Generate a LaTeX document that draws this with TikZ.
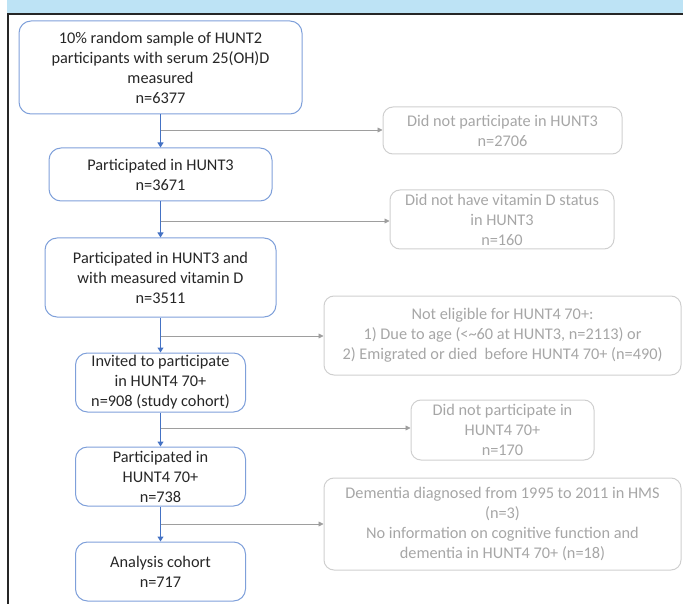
\documentclass[tikz,border=0pt]{standalone}
\usepackage{fontspec}
\setmainfont{Carlito}
\usetikzlibrary{arrows.meta}
\definecolor{mainblue}{HTML}{4472C4}
\definecolor{boxblue}{HTML}{7FA0DA}
\definecolor{gbord}{HTML}{CFCFCF}
\definecolor{gtext}{HTML}{A6A6A6}
\definecolor{garrow}{HTML}{9E9E9E}
\definecolor{band}{HTML}{BDE3F5}
\definecolor{maintext}{HTML}{262626}
\begin{document}
\begin{tikzpicture}[x=1pt,y=-1pt,
  mainbox/.style={draw=boxblue, line width=1pt, rounded corners=12pt, align=center,
    font=\fontsize{16.3}{20}\selectfont, text=maintext, inner sep=0pt},
  greybox/.style={draw=gbord, line width=1pt, rounded corners=10pt, align=center,
    font=\fontsize{16.3}{20}\selectfont, text=gtext, inner sep=0pt},
  mainarrow/.style={draw=mainblue, line width=1pt, -{Triangle[length=5pt,width=6pt]}},
  sidearrow/.style={draw=garrow, line width=0.8pt, -{Triangle[length=5pt,width=5pt]}}]
\useasboundingbox (0,0) rectangle (683,604);
\fill[band] (7,0) rectangle (683,13);
\draw[line width=1.6pt, black!85] (8,604) -- (8,14) -- (683,14);

\node[mainbox, minimum width=283pt, minimum height=93pt] (b1) at (160.5,67.5)
  {10\% random sample of HUNT2\\participants with serum 25(OH)D\\measured\\n=6377};
\node[mainbox, minimum width=223pt, minimum height=53pt] (b2) at (160.5,174.5)
  {Participated in HUNT3\\n=3671};
\node[mainbox, minimum width=231pt, minimum height=79pt] (b3) at (160.5,277.5)
  {Participated in HUNT3 and\\with measured vitamin D\\n=3511};
\node[mainbox, minimum width=170pt, minimum height=59pt] (b4) at (160.5,382.5)
  {Invited to participate\\in HUNT4 70+\\n=908 (study cohort)};
\node[mainbox, minimum width=170pt, minimum height=59pt] (b5) at (160.5,476.5)
  {Participated in\\HUNT4 70+\\n=738};
\node[mainbox, minimum width=170pt, minimum height=59pt] (b6) at (160.5,571.5)
  {Analysis cohort\\n=717};

\node[greybox, minimum width=239pt, minimum height=47pt] (gA) at (502.5,130.5)
  {Did not participate in HUNT3\\n=2706};
\node[greybox, minimum width=224pt, minimum height=59pt] (gB) at (502,219.5)
  {Did not have vitamin D status\\in HUNT3\\n=160};
\node[greybox, minimum width=357pt, minimum height=79pt] (gC) at (502.5,335.5)
  {Not eligible for HUNT4 70+:\\1) Due to age (<\textasciitilde60 at HUNT3, n=2113) or\\2) Emigrated or died\ \ before HUNT4 70+ (n=490)};
\node[greybox, minimum width=183pt, minimum height=60pt] (gD) at (502.5,430)
  {Did not participate in\\HUNT4 70+\\n=170};
\node[greybox, minimum width=357pt, minimum height=92pt] (gE) at (502.5,524)
  {Dementia diagnosed from 1995 to 2011 in HMS\\(n=3)\\No information on cognitive function and\\dementia in HUNT4 70+ (n=18)};

\path[mainarrow] (b1.south) -- (b2.north);
\path[mainarrow] (b2.south) -- (b3.north);
\path[mainarrow] (b3.south) -- (b4.north);
\path[mainarrow] (b4.south) -- (b5.north);
\path[mainarrow] (b5.south) -- (b6.north);

\coordinate (j1) at (160.5,130);
\coordinate (j2) at (160.5,221);
\coordinate (j3) at (160.5,336);
\coordinate (j4) at (160.5,428);
\coordinate (j5) at (160.5,524);
\path[sidearrow] (j1) -- (j1 -| gA.west);
\path[sidearrow] (j2) -- (j2 -| gB.west);
\path[sidearrow] (j3) -- (j3 -| gC.west);
\path[sidearrow] (j4) -- (j4 -| gD.west);
\path[sidearrow] (j5) -- (j5 -| gE.west);
\end{tikzpicture}
\end{document}
